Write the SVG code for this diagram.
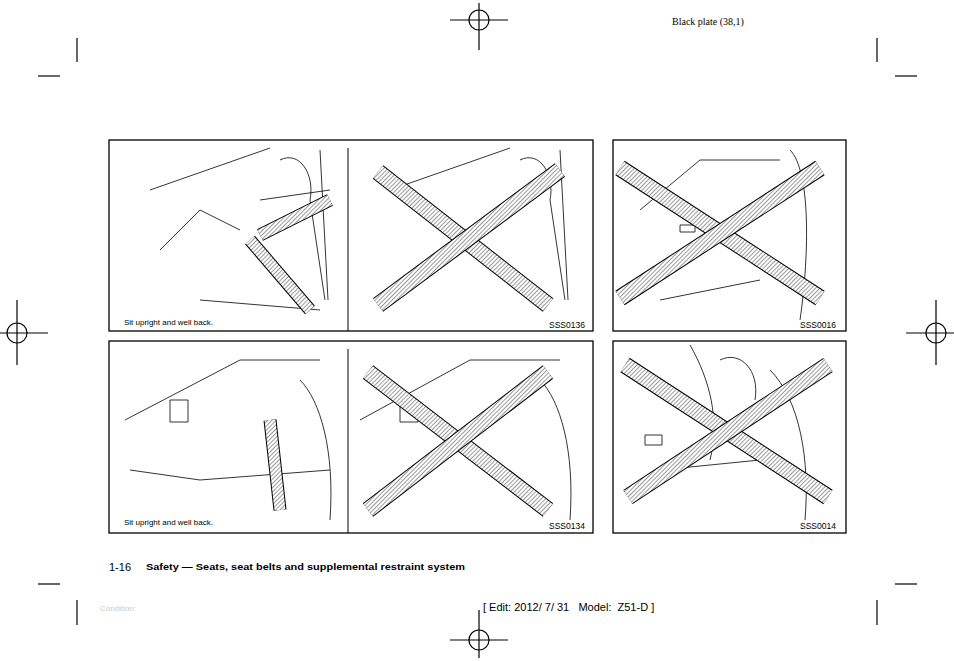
<svg xmlns="http://www.w3.org/2000/svg" width="954" height="661" viewBox="0 0 954 661">
<defs>
<pattern id="h" width="3" height="3" patternUnits="userSpaceOnUse" patternTransform="rotate(45)">
<rect width="3" height="3" fill="#fff"/><line x1="0" y1="0" x2="0" y2="3" stroke="#555" stroke-width="1.2"/>
</pattern>
</defs>
<style>
.f{fill:#fff;stroke:#000;stroke-width:1.3}
.m{stroke:#000;stroke-width:1.2;fill:none}
.xo{stroke:#000;stroke-width:17;stroke-linecap:butt}
.xi{stroke:url(#h);stroke-width:15;stroke-linecap:butt}
.s{fill:none;stroke:#000;stroke-width:0.8}
.lb{font-family:"Liberation Sans",Arial,sans-serif;font-size:8px}
.id{font-family:"Liberation Sans",Arial,sans-serif;font-size:8.5px}
</style>
<rect width="954" height="661" fill="#fff"/>
<g id="marks" class="m">
<circle cx="479" cy="20" r="10"/><line x1="479" y1="3" x2="479" y2="50"/><line x1="450" y1="20" x2="508" y2="20"/>
<circle cx="479" cy="640" r="10"/><line x1="479" y1="610" x2="479" y2="658"/><line x1="450" y1="640" x2="508" y2="640"/>
<circle cx="17" cy="333" r="10"/><line x1="0" y1="333" x2="48" y2="333"/><line x1="17" y1="300" x2="17" y2="365"/>
<circle cx="936" cy="333" r="10"/><line x1="906" y1="333" x2="954" y2="333"/><line x1="936" y1="300" x2="936" y2="365"/>
<line x1="77" y1="38" x2="77" y2="62"/><line x1="38" y1="76" x2="60" y2="76"/>
<line x1="877" y1="38" x2="877" y2="62"/><line x1="895" y1="76" x2="917" y2="76"/>
<line x1="38" y1="584" x2="60" y2="584"/><line x1="77" y1="600" x2="77" y2="625"/>
<line x1="895" y1="584" x2="917" y2="584"/><line x1="877" y1="600" x2="877" y2="625"/>
</g>
<text x="672" y="25" font-family="Liberation Serif,serif" font-size="10">Black plate (38,1)</text>
<g id="panel1">
<rect class="f" x="109" y="140" width="484" height="191"/>
<line x1="348" y1="148" x2="348" y2="331" stroke="#000" stroke-width="1"/>
<path class="s" d="M150 190 L270 148 M160 250 L200 210 L240 230 M280 160 C300 150 315 175 310 200 L325 300 M260 200 L330 190 M200 300 L320 310 M320 150 L328 300 M390 190 L510 148 M520 160 C540 150 555 175 550 200 L565 300 M560 150 L568 300"/>
<line x1="250" y1="240" x2="310" y2="310" stroke="#000" stroke-width="13"/><line x1="250" y1="240" x2="310" y2="310" stroke="url(#h)" stroke-width="11"/>
<line x1="260" y1="235" x2="330" y2="200" stroke="#000" stroke-width="13"/><line x1="260" y1="235" x2="330" y2="200" stroke="url(#h)" stroke-width="11"/>
<line class="xo" x1="378" y1="172" x2="548" y2="305"/><line class="xi" x1="378" y1="172" x2="548" y2="305"/>
<line class="xo" x1="378" y1="305" x2="560" y2="170"/><line class="xi" x1="378" y1="305" x2="560" y2="170"/>
<text class="lb" x="124" y="325">Sit upright and well back.</text>
<text class="id" x="549" y="328">SSS0136</text>
</g>
<g id="panel2">
<rect class="f" x="613" y="140" width="233" height="191"/>
<path class="s" d="M640 210 L700 160 L780 160 M790 150 C810 170 810 250 800 320 M660 300 L760 280 M680 225 L695 225 L695 232 L680 232Z"/>
<line class="xo" x1="620" y1="168" x2="820" y2="298"/><line class="xi" x1="620" y1="168" x2="820" y2="298"/>
<line class="xo" x1="620" y1="298" x2="820" y2="168"/><line class="xi" x1="620" y1="298" x2="820" y2="168"/>
<text class="id" x="800" y="328">SSS0016</text>
</g>
<g id="panel3">
<rect class="f" x="109" y="341" width="484" height="192"/>
<line x1="348" y1="349" x2="348" y2="533" stroke="#000" stroke-width="1"/>
<path class="s" d="M125 420 L240 360 L320 360 M170 400 L188 400 L188 422 L170 422Z M130 470 L200 480 L330 470 M300 380 C320 400 335 450 330 520 M360 420 L470 360 L560 360 M400 400 L418 400 L418 422 L400 422Z M540 380 C560 400 575 450 570 520"/>
<line x1="270" y1="420" x2="280" y2="510" stroke="#000" stroke-width="13"/><line x1="270" y1="420" x2="280" y2="510" stroke="url(#h)" stroke-width="11"/>
<line class="xo" x1="368" y1="372" x2="548" y2="510"/><line class="xi" x1="368" y1="372" x2="548" y2="510"/>
<line class="xo" x1="368" y1="510" x2="548" y2="372"/><line class="xi" x1="368" y1="510" x2="548" y2="372"/>
<text class="lb" x="124" y="525">Sit upright and well back.</text>
<text class="id" x="549" y="529">SSS0134</text>
</g>
<g id="panel4">
<rect class="f" x="613" y="341" width="233" height="192"/>
<path class="s" d="M690 345 C710 380 720 420 710 460 M645 435 L662 435 L662 445 L645 445Z M660 470 L760 460 M720 360 C740 350 760 370 755 400 M770 370 C800 400 810 460 805 520"/>
<line class="xo" x1="625" y1="365" x2="828" y2="497"/><line class="xi" x1="625" y1="365" x2="828" y2="497"/>
<line class="xo" x1="628" y1="497" x2="828" y2="365"/><line class="xi" x1="628" y1="497" x2="828" y2="365"/>
<text class="id" x="800" y="529">SSS0014</text>
</g>
<text x="109" y="571" font-family="Liberation Sans,Arial,sans-serif" font-size="11">1-16</text>
<text x="146" y="570" font-family="Liberation Sans,Arial,sans-serif" font-size="9.5" font-weight="bold" textLength="319" lengthAdjust="spacingAndGlyphs">Safety — Seats, seat belts and supplemental restraint system</text>
<text x="100" y="611" font-family="Liberation Sans,Arial,sans-serif" font-size="8" fill="#ccc">Condition:</text>
<text x="483" y="611" font-family="Liberation Sans,Arial,sans-serif" font-size="11" xml:space="preserve" style="white-space:pre">[ Edit: 2012/ 7/ 31   Model:  Z51-D ]</text>
</svg>
